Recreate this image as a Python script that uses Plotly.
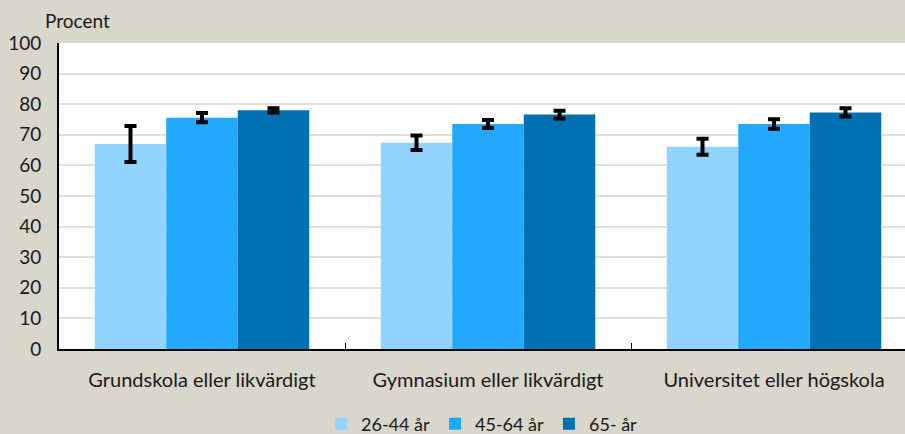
import plotly.graph_objects as go

categories = ["Grundskola eller likvärdigt", "Gymnasium eller likvärdigt", "Universitet eller högskola"]
series_names = ["26-44 år", "45-64 år", "65- år"]
values_26_44 = [67.0, 67.4, 66.1]
values_45_64 = [75.6, 73.5, 73.5]
values_65 = [78.0, 76.6, 77.3]
err_26_44 = [5.9, 2.4, 2.6]
err_45_64 = [1.5, 1.3, 1.55]
err_65 = [0.7, 1.25, 1.35]
colors = ["#93D4FE", "#22A9FE", "#0070B2"]
y_ticks = list(range(0, 101, 10))

series = [values_26_44, values_45_64, values_65]
errs = [err_26_44, err_45_64, err_65]

font = "Lato, 'DejaVu Sans', sans-serif"
fig = go.Figure()
for name, vals, err, col in zip(series_names, series, errs, colors):
    fig.add_trace(go.Bar(
        x=categories, y=vals, name=name,
        marker=dict(color=col, line=dict(width=0)),
        error_y=dict(type="data", array=err, visible=True, color="black", thickness=4, width=6),
    ))

fig.update_layout(
    width=905, height=434,
    paper_bgcolor="#D9D6CB", plot_bgcolor="white",
    margin=dict(l=59, r=0, t=43, b=85, autoexpand=False),
    barmode="group", bargap=0.25, bargroupgap=0,
    font=dict(family=font, size=18, color="#1a1a1a"),
    legend=dict(orientation="h", x=0.5, xanchor="center", y=-(424-349)/306, yanchor="middle",
                font=dict(size=18), bgcolor="rgba(0,0,0,0)", itemwidth=30,
                traceorder="normal", tracegroupgap=0),
    xaxis=dict(range=[-0.5, 2.458], showline=True, linecolor="black", linewidth=2,
               ticks="inside", tickson="boundaries", ticklen=6, tickcolor="black",
               ticklabelstandoff=12, showgrid=False, mirror=False,
               tickfont=dict(size=20)),
    yaxis=dict(range=[0, 100], tickvals=y_ticks, showgrid=True, gridcolor="#E2DFD8", gridwidth=1.5,
               showline=True, linecolor="black", linewidth=2, mirror=True, ticks="",
               zeroline=False, ticklabelstandoff=12, tickfont=dict(size=19)),
    annotations=[dict(text="Procent", x=-16/846, y=(349-20)/306, xref="paper", yref="paper",
                      showarrow=False, xanchor="left", yanchor="middle", font=dict(size=19))],
)
fig.write_html("out.html", config={"displayModeBar": False},
               post_script="document.body.style.margin='0';document.body.style.padding='0';")
